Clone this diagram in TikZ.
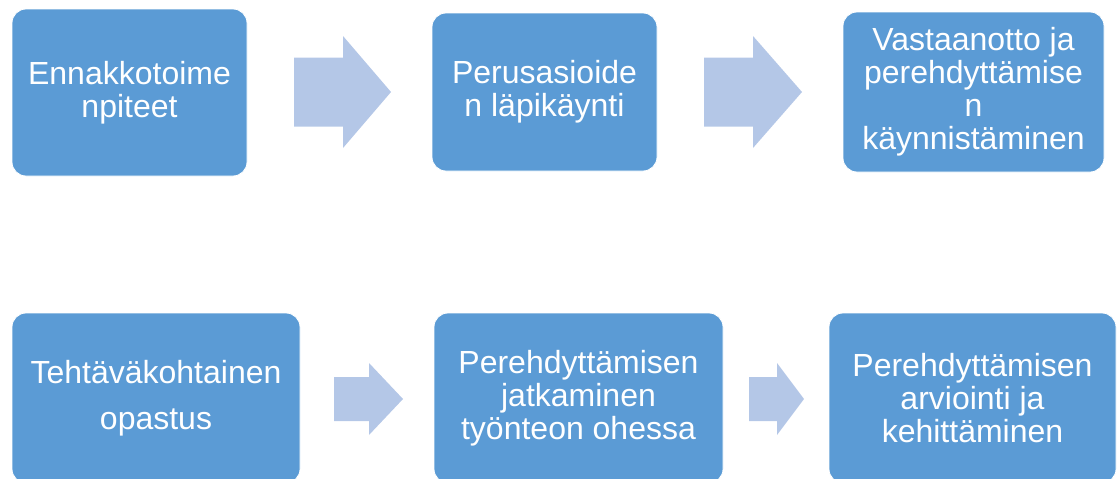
\documentclass[tikz,border=0pt]{standalone}
\usepackage{fontspec}
\setmainfont{Liberation Sans}
\definecolor{boxblue}{HTML}{5B9BD5}
\definecolor{arrowblue}{HTML}{B4C7E7}
\newcommand{\blockarrow}[6]{%
\fill[arrowblue] (#1,#4-#5) -- (#2,#4-#5) -- (#2,#4-#6) -- (#3,#4) -- (#2,#4+#6) -- (#2,#4+#5) -- (#1,#4+#5) -- cycle;
}

\begin{document}
\begin{tikzpicture}[x=1pt,y=-1pt,
  stepbox/.style={fill=boxblue, draw=white, line width=0.8pt, rounded corners=14pt,
    text=white, align=center, inner sep=0pt,
    font=\fontsize{32}{33}\selectfont}]
\useasboundingbox (0,0) rectangle (1117,479);
\clip (0,0) rectangle (1117,479);

% first row
\node[stepbox, minimum width=235pt, minimum height=167pt] (ennakko) at (129.5,92.5) {Ennakkotoime\\npiteet};
\node[stepbox, minimum width=225pt, minimum height=158pt] (perus) at (544.5,92) {Perusasioide\\n läpikäynti};
\node[stepbox, minimum width=261pt, minimum height=160pt] (vastaanotto) at (973.5,92) {Vastaanotto ja\\perehdyttämise\\n\\käynnistäminen};

\blockarrow{294}{343}{391}{92}{34.5}{56}
\blockarrow{704}{753}{802}{92}{34.5}{56}

% second row
\node[stepbox, minimum width=288pt, minimum height=170pt] (tehtava) at (156,398) {Tehtäväkohtainen\\[13pt]opastus};
\node[stepbox, minimum width=289pt, minimum height=170pt] (jatkaminen) at (578.5,398) {Perehdyttämisen\\jatkaminen\\työnteon ohessa};
\node[stepbox, minimum width=287pt, minimum height=170pt] (arviointi) at (972.5,398) {Perehdyttämisen\\arviointi ja\\kehittäminen};

\blockarrow{334}{369}{403}{399}{22}{36}
\blockarrow{749}{777}{804}{399}{22}{36}

\end{tikzpicture}
\end{document}
